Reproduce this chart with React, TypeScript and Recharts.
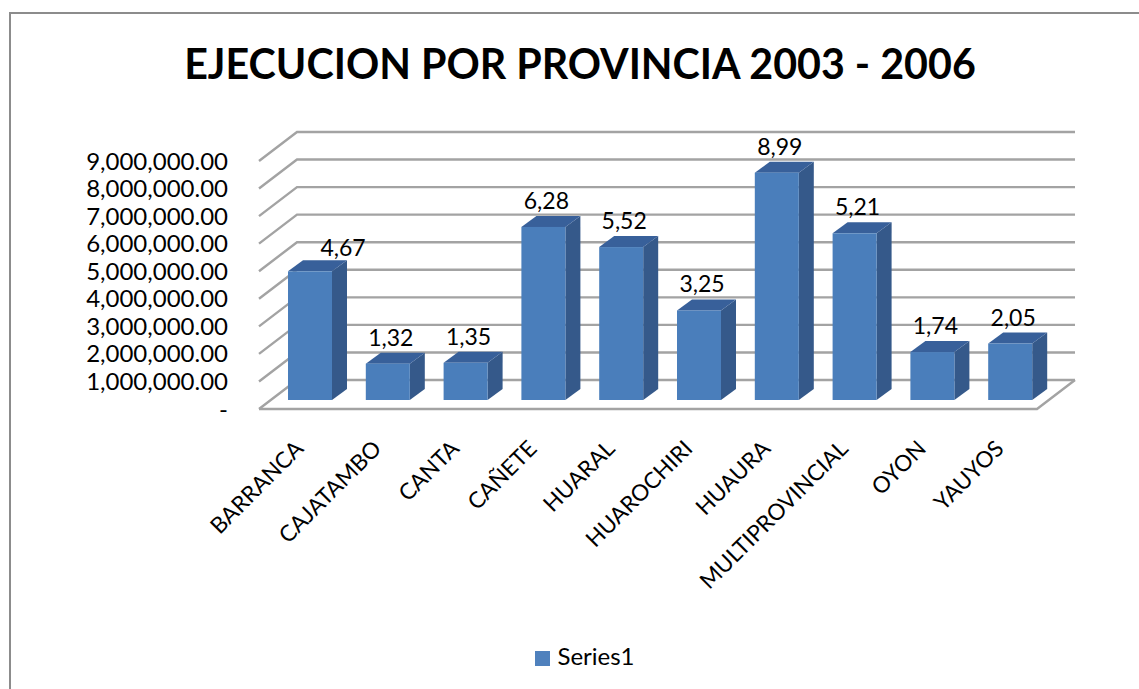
import React from "react";
import { BarChart, Bar, XAxis, YAxis, CartesianGrid, Legend, LabelList } from "recharts";

const categories = ["BARRANCA", "CAJATAMBO", "CANTA", "CAÑETE", "HUARAL", "HUAROCHIRI", "HUAURA", "MULTIPROVINCIAL", "OYON", "YAUYOS"];
const seriesValues = [4670000, 1320000, 1350000, 6280000, 5550000, 3250000, 8250000, 6050000, 1740000, 2050000];
const valueLabels = ["4,67", "1,32", "1,35", "6,28", "5,52", "3,25", "8,99", "5,21", "1,74", "2,05"];
const yTicks = [0, 1000000, 2000000, 3000000, 4000000, 5000000, 6000000, 7000000, 8000000, 9000000];

const data = categories.map((name, i) => ({ name, value: seriesValues[i], label: valueLabels[i] }));

const FONT = "Lato, sans-serif";
const GRID = "#a3a3a3";
const DEPTH_X = 38;
const DEPTH_Y = 29;
const SHIFT_X = 12;
const SHIFT_Y = 9;
const SIDE_X = 15;
const SIDE_Y = 11;

function Bar3D(props: any) {
  const { x, y, width, height } = props;
  const l = x + SHIFT_X;
  const r = l + width;
  const t = y - SHIFT_Y;
  const b = t + height;
  return (
    <g>
      <polygon points={`${r},${t} ${r + SIDE_X},${t - SIDE_Y} ${r + SIDE_X},${b - SIDE_Y} ${r},${b}`} fill="#35598a" />
      <polygon points={`${l},${t} ${l + SIDE_X},${t - SIDE_Y} ${r + SIDE_X},${t - SIDE_Y} ${r},${t}`} fill="#38609a" />
      <rect x={l} y={t} width={width} height={height} fill="#4a7ebb" />
    </g>
  );
}

function GridLine3D(props: any) {
  const { x1, x2, y1 } = props;
  const backY = y1 - DEPTH_Y;
  const isFloor = Math.abs(y1 - 409) < 2;
  return (
    <g fill="none" stroke={GRID} strokeWidth={2.4}>
      <polyline points={`${x1},${y1} ${x1 + DEPTH_X},${backY} ${x2 + DEPTH_X},${backY}`} />
      {isFloor ? <polyline points={`${x1},${y1} ${x2},${y1} ${x2 + DEPTH_X},${backY}`} /> : null}
    </g>
  );
}

function XTick(props: any) {
  const { x, y, payload } = props;
  const tx = x + 7;
  const ty = y + 33;
  return (
    <text
      x={tx}
      y={ty}
      transform={`rotate(-45 ${tx} ${ty})`}
      textAnchor="end"
      fontFamily={FONT}
      fontSize={22.5}
      fill="#000"
    >
      {payload.value}
    </text>
  );
}

function ValueLabel(props: any) {
  const { x, y, width, value, index } = props;
  const cx = x + width / 2 + SHIFT_X + (index === 0 ? 33 : 3);
  const cy = y - SHIFT_Y + (index === 0 ? -24 : -27);
  return (
    <text x={cx} y={cy} textAnchor="middle" dominantBaseline="central" fontFamily={FONT} fontSize={23} fill="#000">
      {value}
    </text>
  );
}

const fmt = (v: number) => (v === 0 ? "-" : v.toLocaleString("en-US", { minimumFractionDigits: 2, maximumFractionDigits: 2 }));

export default function App() {
  return (
    <div style={{ position: "absolute", left: 0, top: 0, width: 1139, height: 689, background: "#fff", overflow: "hidden" }}>
      <div style={{ position: "absolute", left: 9, top: 12, width: 1160, height: 700, border: "2.5px solid #8c8c8c", boxSizing: "border-box" }} />
      <div style={{ position: "absolute", left: 0, top: 37, width: 1160, textAlign: "center", fontFamily: FONT, fontWeight: 700, fontSize: 41.2, lineHeight: "52px", color: "#000" }}>
        EJECUCION POR PROVINCIA 2003 - 2006
      </div>
      <BarChart
        width={1139}
        height={689}
        data={data}
        barSize={44}
        margin={{ top: 161, right: 102, bottom: 30, left: 0 }}
        style={{ position: "absolute", left: 0, top: 0 }}
      >
        <CartesianGrid horizontal={(p: any) => <GridLine3D key={p.key} {...p} />} vertical={false} syncWithTicks />
        <XAxis dataKey="name" interval={0} axisLine={false} tickLine={false} tick={<XTick />} height={220} />
        <YAxis
          domain={[0, 9000000]}
          ticks={yTicks}
          interval={0}
          width={259}
          axisLine={false}
          tickLine={false}
          tickFormatter={fmt}
          tick={{ fontFamily: FONT, fontSize: 24, fill: "#000" }}
          tickMargin={25}
        />
        <Legend
          iconType="square"
          iconSize={15}
          layout="horizontal"
          wrapperStyle={{ position: "absolute", left: 525, top: 641, width: 130, height: 30, fontFamily: FONT, fontSize: 24 }}
          formatter={(v: string) => <span style={{ color: "#000", marginLeft: 3 }}>{v}</span>}
        />
        <Bar dataKey="value" name="Series1" fill="#4f81bd" isAnimationActive={false} shape={<Bar3D />}>
          <LabelList dataKey="label" content={<ValueLabel />} />
        </Bar>
      </BarChart>
    </div>
  );
}
